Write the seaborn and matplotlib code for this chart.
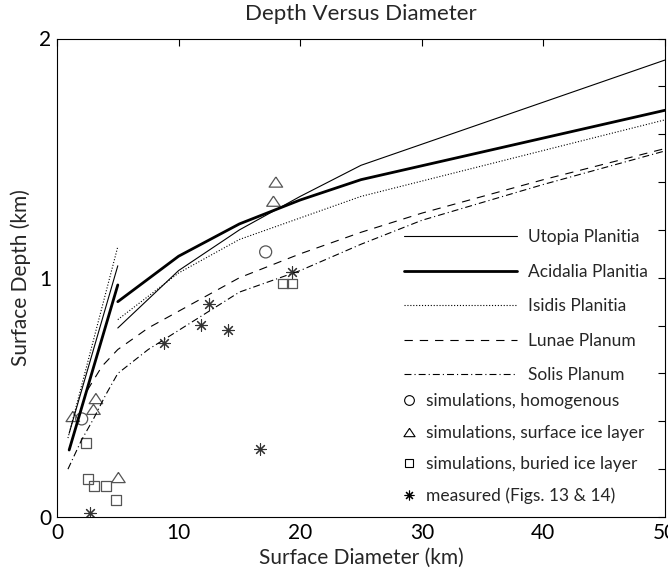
import matplotlib
matplotlib.use("Agg")
import matplotlib.pyplot as plt
import seaborn as sns
from matplotlib.lines import Line2D

# Depth-diameter relations: simple-crater branch (D < 5 km) and complex branch
utopia_simple_d = [1.0, 5.0]
utopia_simple_h = [0.35, 1.05]
utopia_complex_d = [5, 10, 15, 20, 25, 50]
utopia_complex_h = [0.79, 1.03, 1.20, 1.34, 1.47, 1.91]

acidalia_simple_d = [1.0, 5.0]
acidalia_simple_h = [0.28, 0.97]
acidalia_complex_d = [5, 10, 15, 20, 25, 50]
acidalia_complex_h = [0.90, 1.09, 1.225, 1.325, 1.41, 1.70]

isidis_simple_d = [0.9, 5.0]
isidis_simple_h = [0.33, 1.13]
isidis_complex_d = [5, 10, 15, 20, 25, 50]
isidis_complex_h = [0.825, 1.02, 1.16, 1.25, 1.34, 1.66]

lunae_d = [2.5, 3.7, 5, 7.5, 10, 15, 20, 25, 30, 40, 50]
lunae_h = [0.53, 0.63, 0.70, 0.79, 0.86, 1.00, 1.10, 1.19, 1.27, 1.41, 1.54]

solis_d = [0.9, 2.0, 3.0, 4.0, 5.0, 7.5, 10, 15, 20, 25, 30, 40, 50]
solis_h = [0.20, 0.32, 0.41, 0.51, 0.60, 0.70, 0.78, 0.94, 1.03, 1.14, 1.24, 1.39, 1.53]

# Simulated and measured craters
homog_d = [2.03, 17.16]
homog_h = [0.41, 1.108]
surface_d = [1.3, 3.0, 3.2, 5.05, 17.8, 18.0]
surface_h = [0.42, 0.45, 0.495, 0.165, 1.32, 1.40]
buried_d = [2.36, 2.58, 3.07, 4.03, 4.83, 18.56, 19.35]
buried_h = [0.31, 0.16, 0.13, 0.13, 0.07, 0.976, 0.976]
measured_d = [2.71, 8.83, 11.84, 12.53, 14.04, 16.7, 19.3]
measured_h = [0.018, 0.726, 0.804, 0.89, 0.78, 0.286, 1.026]

x_ticks = [0, 10, 20, 30, 40, 50]
y_ticks = [0, 0.2, 0.4, 0.6, 0.8, 1.0, 1.2, 1.4, 1.6, 1.8, 2.0]
y_tick_labels = ["0", "", "", "", "", "1", "", "", "", "", "2"]

sns.set_style("white")
plt.rcParams["font.family"] = ["Lato", "DejaVu Sans"]
plt.rcParams["lines.scale_dashes"] = False

fig = plt.figure(figsize=(6.68, 5.76), dpi=100)
L, R, T, B = 57, 665, 38.5, 517
W, H = 668, 576
ax = fig.add_axes([L / W, 1 - B / H, (R - L) / W, (B - T) / H])

thin = 0.8
thick = 2.0
dotted = (0, (0.8, 1.3))
dashed = (0, (6, 5))
dashdot = (0, (5, 2.2, 0.8, 2.2))

styles = {
    "Utopia Planitia": dict(color="black", lw=thin, linestyle="-"),
    "Acidalia Planitia": dict(color="black", lw=thick, linestyle="-"),
    "Isidis Planitia": dict(color="black", lw=thin, linestyle=dotted),
    "Lunae Planum": dict(color="black", lw=thin, linestyle=dashed),
    "Solis Planum": dict(color="black", lw=thin, linestyle=dashdot),
}

curves = [
    ("Utopia Planitia", utopia_simple_d, utopia_simple_h),
    ("Utopia Planitia", utopia_complex_d, utopia_complex_h),
    ("Acidalia Planitia", acidalia_simple_d, acidalia_simple_h),
    ("Acidalia Planitia", acidalia_complex_d, acidalia_complex_h),
    ("Isidis Planitia", isidis_simple_d, isidis_simple_h),
    ("Isidis Planitia", isidis_complex_d, isidis_complex_h),
    ("Lunae Planum", lunae_d, lunae_h),
    ("Solis Planum", solis_d, solis_h),
]
for name, d, h in curves:
    sns.lineplot(x=d, y=h, ax=ax, estimator=None, sort=False, **styles[name])

gray = "#555555"
tri = [(0, 0.75), (-1, -0.75), (1, -0.75), (0, 0.75)]
sns.scatterplot(x=homog_d, y=homog_h, ax=ax, marker="o", s=75,
                facecolor="none", edgecolor=gray, linewidth=0.9)
sns.scatterplot(x=surface_d, y=surface_h, ax=ax, marker=tri, s=95,
                facecolor="none", edgecolor=gray, linewidth=0.9)
sns.scatterplot(x=buried_d, y=buried_h, ax=ax, marker="s", s=50,
                facecolor="none", edgecolor=gray, linewidth=0.9)
sns.scatterplot(x=measured_d, y=measured_h, ax=ax, marker=(8, 2, 0), s=70,
                color="#333333", edgecolor="#333333", linewidth=0.8)

ax.set_xlim(0, 50)
ax.set_ylim(0, 2)
ax.set_xticks(x_ticks)
ax.set_xticklabels([str(v) for v in x_ticks])
ax.set_yticks(y_ticks)
ax.set_yticklabels(y_tick_labels)
ax.tick_params(direction="in", length=5, width=0.8, top=True, right=True,
               labelsize=15, pad=4, colors="black")
for s in ax.spines.values():
    s.set_color("black")
    s.set_linewidth(0.8)

ax.set_xlabel("Surface Diameter (km)", fontsize=15, labelpad=4)
ax.set_ylabel("Surface Depth (km)", fontsize=15, labelpad=6)
ax.set_title("Depth Versus Diameter", fontsize=16, pad=13)

# legend: line styles
line_handles = [Line2D([], [], **styles[n]) for n in styles]
leg1 = ax.legend(line_handles, list(styles), loc="upper left",
                 bbox_to_anchor=((404 - L) / (R - L), 1 - (229 - T) / (B - T)),
                 frameon=False, fontsize=12.5, handlelength=6.5,
                 handletextpad=0.65, labelspacing=1.07, borderaxespad=0,
                 borderpad=0)
ax.add_artist(leg1)

# legend: marker symbols
mk = dict(linestyle="", markerfacecolor="none", markeredgecolor="black", markeredgewidth=0.8)
marker_handles = [
    Line2D([], [], marker="o", markersize=7, **mk),
    Line2D([], [], marker=tri, markersize=8, **mk),
    Line2D([], [], marker="s", markersize=6, **mk),
    Line2D([], [], marker=(8, 2, 0), markersize=7, color="black", linestyle="",
           markeredgewidth=0.8),
]
marker_labels = ["simulations, homogenous", "simulations, surface ice layer",
                 "simulations, buried ice layer", "measured (Figs. 13 & 14)"]
ax.legend(marker_handles, marker_labels, loc="upper left",
          bbox_to_anchor=((400 - L) / (R - L), 1 - (393 - T) / (B - T)),
          frameon=False, fontsize=12.5, handlelength=1.0,
          handletextpad=0.5, labelspacing=0.9, borderaxespad=0, borderpad=0)

fig.savefig("out.png", dpi=100)
